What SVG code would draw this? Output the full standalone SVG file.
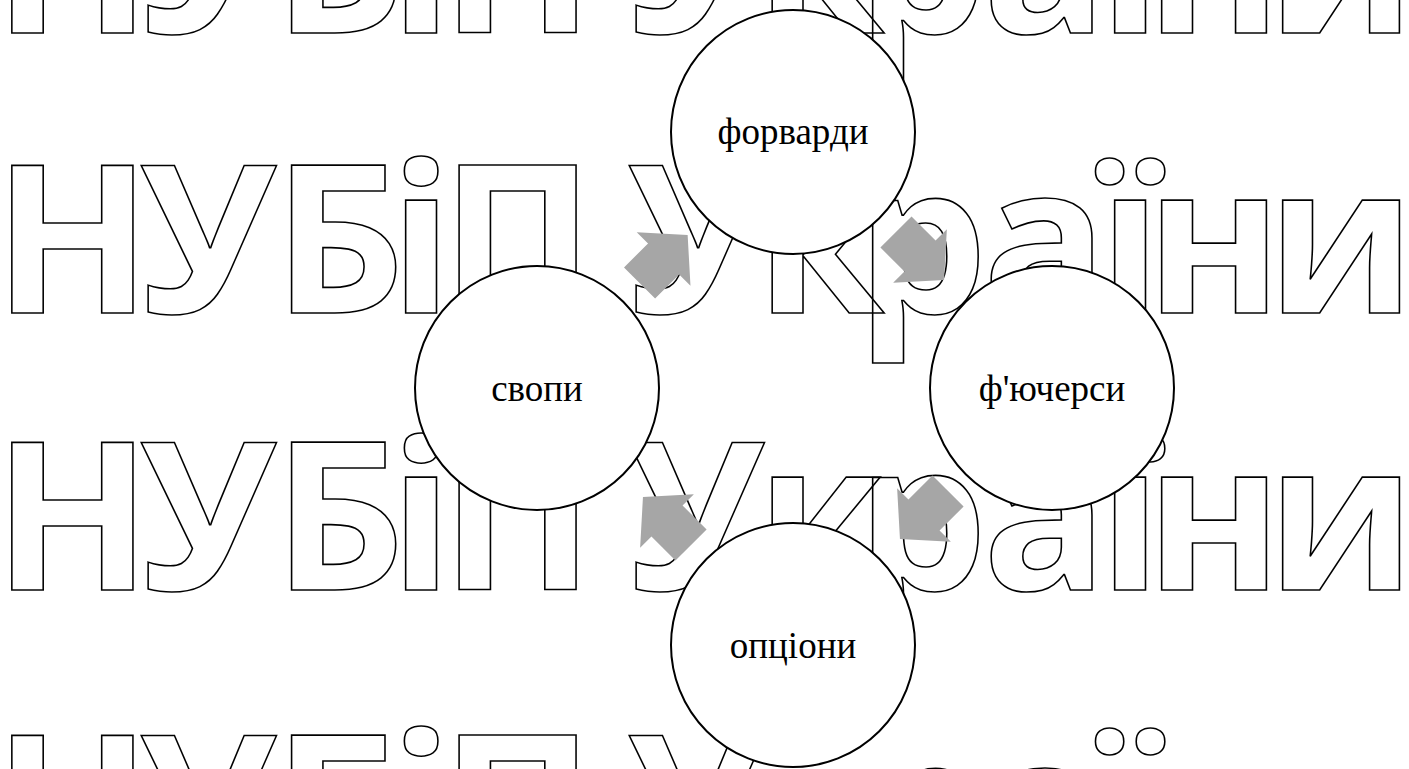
<svg xmlns="http://www.w3.org/2000/svg" width="1409" height="769" viewBox="0 0 1409 769">
  <style>
    .wm { font-family: "Open Sans", "Noto Sans", "DejaVu Sans", sans-serif; font-weight: 700; font-size: 207px; fill: none; stroke: #000; stroke-width: 1.6; text-anchor: middle; }
    .node circle { fill: #fff; stroke: #000; stroke-width: 2; }
    .node text { font-family: "Liberation Serif", "Times New Roman", serif; font-size: 37px; fill: #000; text-anchor: middle; }
    .arrow { fill: #a6a6a6; stroke: none; }
  </style>
  <defs>
    <polygon id="blockArrow" points="-34,-22 0,-22 0,-38 34,0 0,38 0,22 -34,22"/>
  </defs>
  <rect width="1409" height="769" fill="#fff"/>
  <g id="watermark">
    <text class="wm" x="72.5 208 339 421 517.5 606 696 820 922 1045 1130 1214 1341" y="33">НУБіП України</text>
    <text class="wm" x="72.5 208 339 421 517.5 606 696 820 922 1045 1130 1214 1341" y="313">НУБіП України</text>
    <text class="wm" x="72.5 208 339 421 517.5 606 696 820 922 1045 1130 1214 1341" y="590">НУБіП України</text>
    <text class="wm" x="72.5 208 339 421 517.5 606 696 820 922 1045 1130 1214 1341" y="883">НУБіП України</text>
  </g>
  <g id="connectors">
    <use href="#blockArrow" class="arrow" transform="translate(663.6,259) rotate(-45)"/>
    <use href="#blockArrow" class="arrow" transform="translate(920,256) rotate(45)"/>
    <use href="#blockArrow" class="arrow" transform="translate(924,515) rotate(135)"/>
    <use href="#blockArrow" class="arrow" transform="translate(667,521) rotate(225)"/>
  </g>
  <g id="node-forwards" class="node">
    <circle cx="793" cy="132" r="122"/>
    <text x="793" y="144">форварди</text>
  </g>
  <g id="node-futures" class="node">
    <circle cx="1052" cy="388" r="122"/>
    <text x="1052" y="401">ф'ючерси</text>
  </g>
  <g id="node-options" class="node">
    <circle cx="793" cy="645" r="122"/>
    <text x="793" y="658">опціони</text>
  </g>
  <g id="node-swaps" class="node">
    <circle cx="537" cy="388" r="122"/>
    <text x="537" y="401">свопи</text>
  </g>
</svg>
